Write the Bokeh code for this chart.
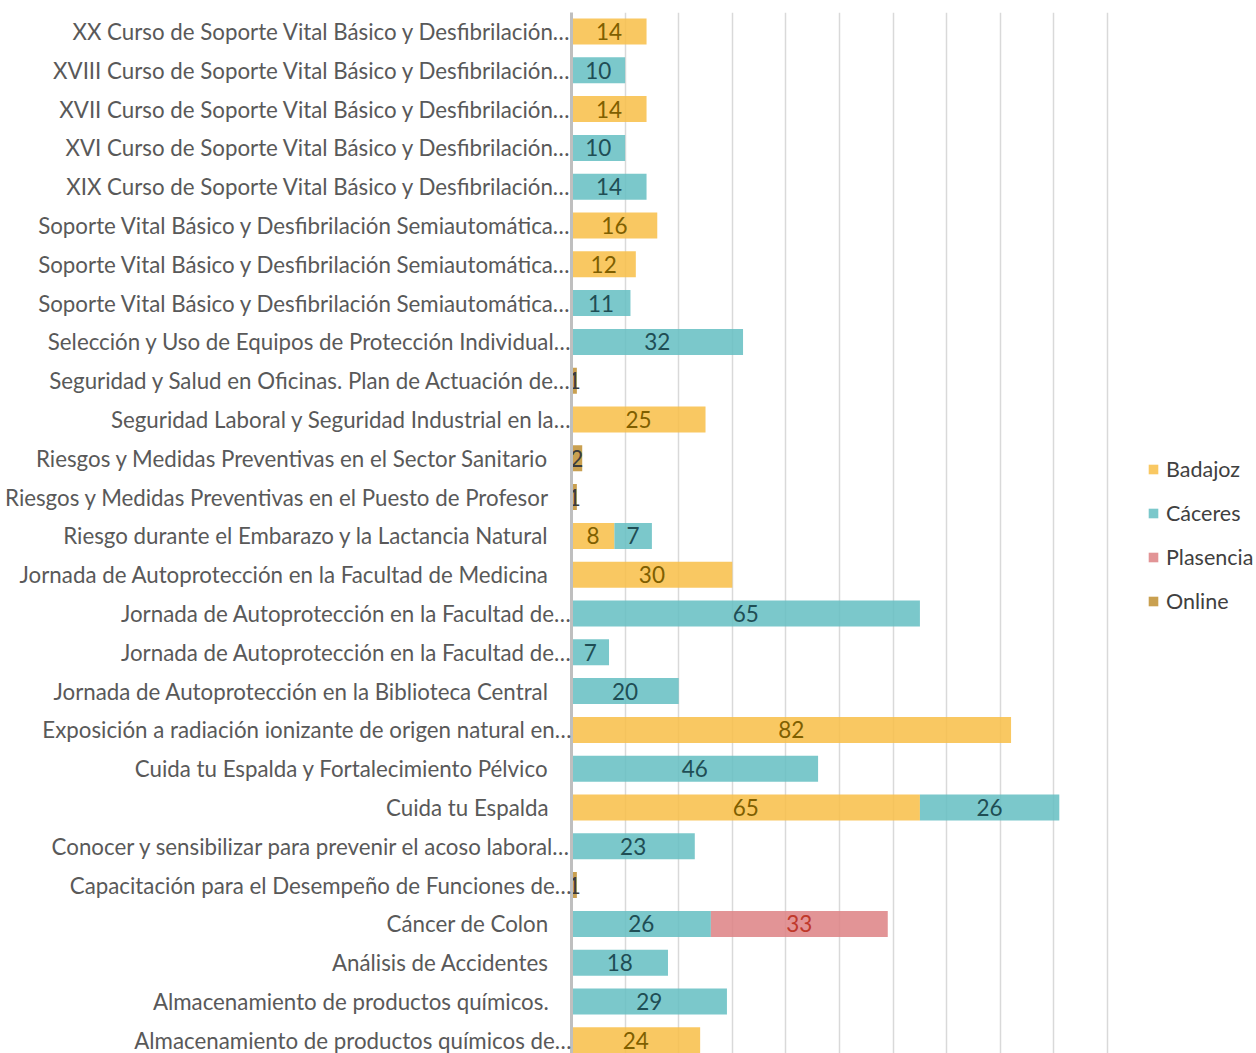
from bokeh.plotting import figure
from bokeh.models import (ColumnDataSource, Range1d, FixedTicker, Grid, Legend, LegendItem)
from bokeh.core.properties import value
from bokeh.embed import file_html
from bokeh.resources import INLINE

courses = [
    "XX Curso de Soporte Vital Básico y Desfibrilación…",
    "XVIII Curso de Soporte Vital Básico y Desfibrilación…",
    "XVII Curso de Soporte Vital Básico y Desfibrilación…",
    "XVI Curso de Soporte Vital Básico y Desfibrilación…",
    "XIX Curso de Soporte Vital Básico y Desfibrilación…",
    "Soporte Vital Básico y Desfibrilación Semiautomática…",
    "Soporte Vital Básico y Desfibrilación Semiautomática…",
    "Soporte Vital Básico y Desfibrilación Semiautomática…",
    "Selección y Uso de Equipos de Protección Individual…",
    "Seguridad y Salud en Oficinas. Plan de Actuación de…",
    "Seguridad Laboral y Seguridad Industrial en la…",
    "Riesgos y Medidas Preventivas en el Sector Sanitario",
    "Riesgos y Medidas Preventivas en el Puesto de Profesor",
    "Riesgo durante el Embarazo y la Lactancia Natural",
    "Jornada de Autoprotección en la Facultad de Medicina",
    "Jornada de Autoprotección en la Facultad de…",
    "Jornada de Autoprotección en la Facultad de…",
    "Jornada de Autoprotección en la Biblioteca Central",
    "Exposición a radiación ionizante de origen natural en…",
    "Cuida tu Espalda y Fortalecimiento Pélvico",
    "Cuida tu Espalda",
    "Conocer y sensibilizar para prevenir el acoso laboral…",
    "Capacitación para el Desempeño de Funciones de…",
    "Cáncer de Colon",
    "Análisis de Accidentes",
    "Almacenamiento de productos químicos.",
    "Almacenamiento de productos químicos de…",
]
badajoz   = [14, 0, 14, 0, 0, 16, 12, 0, 0, 0, 25, 0, 0, 8, 30, 0, 0, 0, 82, 0, 65, 0, 0, 0, 0, 0, 24]
caceres   = [0, 10, 0, 10, 14, 0, 0, 11, 32, 0, 0, 0, 0, 7, 0, 65, 7, 20, 0, 46, 26, 23, 0, 26, 18, 29, 0]
plasencia = [0, 0, 0, 0, 0, 0, 0, 0, 0, 0, 0, 0, 0, 0, 0, 0, 0, 0, 0, 0, 0, 0, 0, 33, 0, 0, 0]
online    = [0, 0, 0, 0, 0, 0, 0, 0, 0, 1, 0, 2, 1, 0, 0, 0, 0, 0, 0, 0, 0, 0, 1, 0, 0, 0, 0]
series_names = ["Badajoz", "Cáceres", "Plasencia", "Online"]
x_ticks = [10, 20, 30, 40, 50, 60, 70, 80, 90, 100]

fills = ["#F8BE46", "#64BEC2", "#DD8184", "#C08F31"]
text_colors = ["#7F5F00", "#1F4E55", "#C0392B", "#3B3B3B"]
FONT = "Lato"

n = len(courses)
ypos = [n - i for i in range(n)]
labels = {}
for i, c in enumerate(courses):
    lab = c if c.endswith("…") else c + "\u00a0\u00a0\u00a0\u00a0"
    labels[n - i] = lab

p = figure(width=1255, height=1053, frame_width=684, frame_height=1041,
           output_backend="svg", toolbar_location=None,
           x_range=Range1d(0, 127.6), y_range=Range1d(0.66, n + 0.49),
           x_axis_location=None, min_border_left=571, min_border_top=12,
           min_border_bottom=0, min_border_right=0)
p.outline_line_color = None
p.background_fill_color = "white"
p.ygrid.visible = False
p.xgrid.visible = False

grid = Grid(dimension=0, ticker=FixedTicker(ticks=x_ticks),
            grid_line_color="#D9D9D9", grid_line_width=1.5)
p.add_layout(grid)

yax = p.yaxis[0]
yax.ticker = FixedTicker(ticks=ypos)
yax.major_label_overrides = labels
yax.major_tick_line_color = None
yax.minor_tick_line_color = None
yax.major_tick_out = 0
yax.major_tick_in = 0
yax.axis_line_color = "#BFBFBF"
yax.axis_line_width = 3
yax.major_label_standoff = 0
yax.major_label_text_font = FONT
yax.major_label_text_font_size = "22.3px"
yax.major_label_text_color = "#595959"

all_series = [badajoz, caceres, plasencia, online]
left = [0] * n
items = []
for k, vals in enumerate(all_series):
    lefts = list(left)
    rights = [l + v for l, v in zip(lefts, vals)]
    src = ColumnDataSource(dict(y=ypos, left=lefts, right=rights, v=vals))
    r = p.hbar(y="y", left="left", right="right", height=0.67, source=src,
               fill_color=fills[k], fill_alpha=0.85, line_color=None)
    items.append(LegendItem(label=series_names[k], renderers=[r]))
    ly = [y for y, v in zip(ypos, vals) if v > 0]
    lx = [(l + rr) / 2 for l, rr, v in zip(lefts, rights, vals) if v > 0]
    lt = [str(v) for v in vals if v > 0]
    tsrc = ColumnDataSource(dict(x=lx, y=ly, t=lt))
    p.text(x="x", y="y", text="t", source=tsrc, text_align="center",
           text_baseline="middle", text_font=value(FONT), text_font_size="22.5px",
           text_color=text_colors[k])
    left = rights

legend = Legend(items=items, location=(576, 439), orientation="vertical")
legend.label_text_font = FONT
legend.label_text_font_size = "21.5px"
legend.label_text_color = "#404040"
legend.glyph_width = 12
legend.glyph_height = 12
legend.label_height = 20
legend.spacing = 18
legend.label_standoff = 7
legend.padding = 0
legend.margin = 0
legend.border_line_color = None
legend.background_fill_alpha = 0
p.add_layout(legend)

open("out.html", "w").write(file_html(p, INLINE))
